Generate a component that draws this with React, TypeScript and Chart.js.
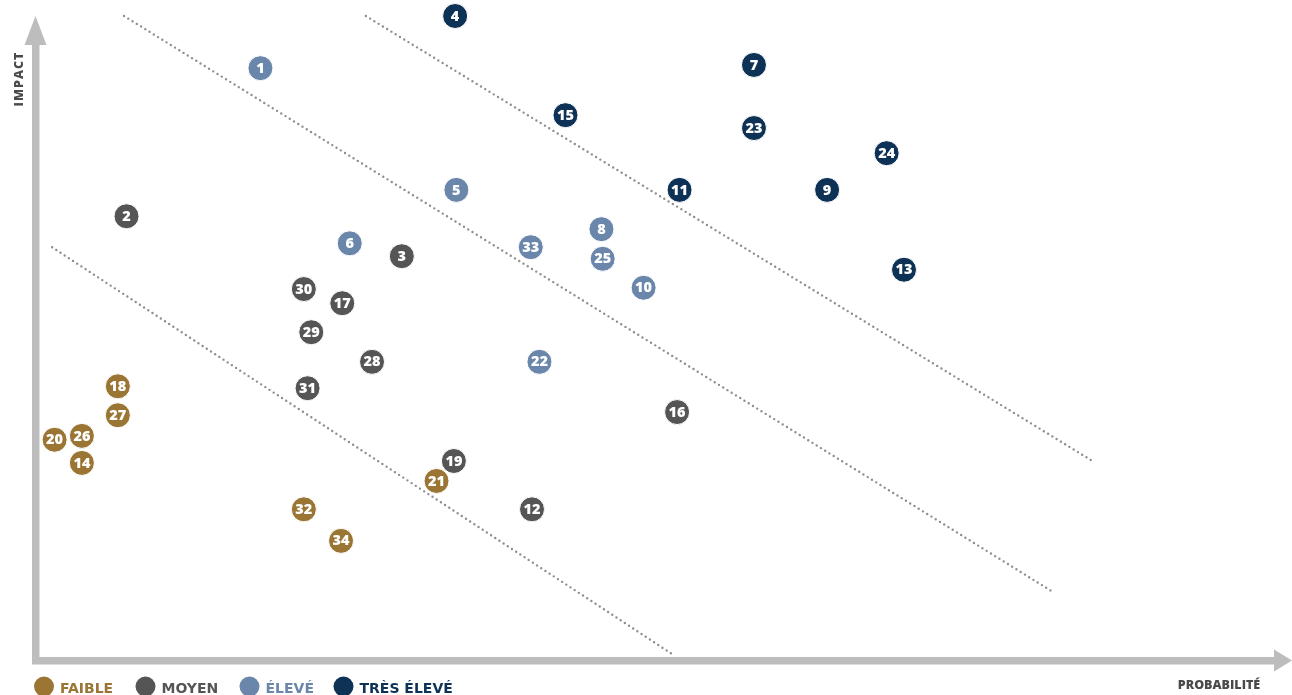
import React, { useEffect, useRef } from "react";
import { Chart, registerables } from "chart.js";

Chart.register(...registerables);

// Series: [x = probabilité, y = impact, label]
const faibleIds = ["14", "18", "20", "21", "26", "27", "32", "34"];
const faibleX = [3.7, 6.6, 1.5, 32.3, 3.7, 6.6, 21.6, 24.6];
const faibleY = [30.6, 42.5, 34.2, 27.8, 34.8, 38.0, 23.4, 18.5];

const moyenIds = ["2", "3", "12", "16", "17", "19", "28", "29", "30", "31"];
const moyenX = [7.3, 29.5, 40.0, 51.7, 24.7, 33.7, 27.1, 22.2, 21.6, 21.9];
const moyenY = [68.9, 62.7, 23.4, 38.5, 55.4, 30.9, 46.3, 50.9, 57.6, 42.2];

const eleveIds = ["1", "5", "6", "8", "10", "22", "25", "33"];
const eleveX = [18.1, 33.9, 25.3, 45.6, 49.0, 40.6, 45.7, 39.9];
const eleveY = [91.9, 73.0, 64.7, 66.9, 57.8, 46.3, 62.3, 64.1];

const tresIds = ["4", "7", "9", "11", "13", "15", "23", "24"];
const tresX = [33.8, 57.9, 63.8, 51.9, 70.0, 42.7, 57.9, 68.6];
const tresY = [100, 92.4, 73.0, 73.0, 60.6, 84.6, 82.6, 78.7];

// Guide lines (start x, start y, end x, end y)
const guide1 = [1.3, 64.1, 51.4, 0.8];
const guide2 = [7.1, 100, 81.9, 10.7];
const guide3 = [26.6, 100, 85.2, 30.9];

const seriesNames = ["FAIBLE", "MOYEN", "ÉLEVÉ", "TRÈS ÉLEVÉ"];
const seriesColors = ["#9a7533", "#555555", "#6a86aa", "#0e3156"];

const axisTitleX = "PROBABILITÉ";
const axisTitleY = "IMPACT";

const FONT = "'DejaVu Sans', 'Open Sans', sans-serif";
const NUM_FONT = "'Open Sans', 'DejaVu Sans', sans-serif";

function pts(xs: number[], ys: number[], ids: string[]) {
  return xs.map((x, i) => ({ x, y: ys[i], id: ids[i] }));
}

function guideData(g: number[]) {
  return [
    { x: g[0], y: g[1] },
    { x: g[2], y: g[3] },
  ];
}

const customPlugin = {
  id: "customDraw",
  beforeDatasetsDraw(chart: any) {
    const { ctx, chartArea } = chart;
    const L = chartArea.left;
    const B = chartArea.bottom;
    ctx.save();
    ctx.fillStyle = "#bdbdbd";
    // vertical shaft
    ctx.fillRect(L - 4, 44, 7.5, B + 4 - 44);
    // vertical head
    ctx.beginPath();
    ctx.moveTo(L - 0.5, 16);
    ctx.lineTo(L + 10.5, 45);
    ctx.lineTo(L - 11.5, 45);
    ctx.closePath();
    ctx.fill();
    // horizontal shaft
    ctx.fillRect(L - 4, B - 3, 1275 - (L - 4), 7.5);
    // horizontal head
    ctx.beginPath();
    ctx.moveTo(1292, B + 0.5);
    ctx.lineTo(1274, B - 10.5);
    ctx.lineTo(1274, B + 11.5);
    ctx.closePath();
    ctx.fill();

    // axis titles
    ctx.fillStyle = "#4a4a4a";
    ctx.textAlign = "center";
    ctx.textBaseline = "middle";
    ctx.save();
    ctx.font = `800 12.5px ${NUM_FONT}`;
    (ctx as any).letterSpacing = "1px";
    ctx.translate(19, 79);
    ctx.rotate(-Math.PI / 2);
    ctx.fillText(axisTitleY, 0, 0);
    ctx.restore();
    ctx.save();
    ctx.font = `800 12.5px ${NUM_FONT}`;
    ctx.textBaseline = "alphabetic";
    ctx.fillText(axisTitleX, 1219, 689);
    ctx.restore();

    // legend
    const legendX = [44, 145.5, 249.5, 343.5];
    ctx.textAlign = "left";
    ctx.textBaseline = "alphabetic";
    ctx.font = `700 14px ${FONT}`;
    seriesNames.forEach((name, i) => {
      ctx.fillStyle = seriesColors[i];
      ctx.beginPath();
      ctx.arc(legendX[i], 686.5, 10, 0, Math.PI * 2);
      ctx.fill();
      ctx.fillText(name, legendX[i] + 16, 693);
    });
    ctx.restore();
  },
  afterDatasetDraw(chart: any, args: any) {
    const ds = chart.data.datasets[args.index];
    if (!ds.isSeries) return;
    const { ctx } = chart;
    const meta = args.meta;
    ctx.save();
    ctx.fillStyle = "#ffffff";
    ctx.font = `800 14.5px ${NUM_FONT}`;
    ctx.textAlign = "center";
    ctx.textBaseline = "middle";
    meta.data.forEach((el: any, i: number) => {
      const raw = ds.data[i];
      ctx.fillText(raw.id, el.x, el.y + 0.5);
    });
    ctx.restore();
  },
};

export default function App() {
  const ref = useRef<HTMLCanvasElement | null>(null);

  useEffect(() => {
    document.body.style.margin = "0";
    const canvas = ref.current;
    if (!canvas) return;
    const seriesData = [
      pts(faibleX, faibleY, faibleIds),
      pts(moyenX, moyenY, moyenIds),
      pts(eleveX, eleveY, eleveIds),
      pts(tresX, tresY, tresIds),
    ];
    const seriesDatasets = seriesData.map((d, i) => ({
      type: "scatter",
      label: seriesNames[i],
      data: d,
      isSeries: true,
      backgroundColor: seriesColors[i],
      borderColor: "#ffffff",
      borderWidth: 1,
      pointRadius: 12.5,
      pointHoverRadius: 12.5,
      clip: false,
    }));
    const guideDatasets = [guide1, guide2, guide3].map((g) => ({
      type: "line",
      label: "guide",
      data: guideData(g),
      isSeries: false,
      borderColor: "#8e8e8e",
      borderWidth: 2.4,
      borderDash: [0, 5],
      borderCapStyle: "round",
      pointRadius: 0,
      showLine: true,
      fill: false,
      clip: false,
    }));
    const chart = new Chart(canvas, {
      type: "scatter",
      data: { datasets: [...seriesDatasets, ...guideDatasets] as any },
      options: {
        animation: false,
        responsive: false,
        maintainAspectRatio: false,
        events: [],
        layout: { padding: { left: 36, right: 16, top: 16, bottom: 35 } },
        scales: {
          x: { type: "linear", min: 0, max: 100, display: false },
          y: { type: "linear", min: 0, max: 100, display: false },
        },
        plugins: {
          legend: { display: false },
          tooltip: { enabled: false },
        },
      },
      plugins: [customPlugin],
    });
    return () => chart.destroy();
  }, []);

  return (
    <div style={{ position: "absolute", left: 0, top: 0, width: 1292, height: 695 }}>
      <canvas ref={ref} width={1292} height={695} style={{ display: "block" }} />
    </div>
  );
}
